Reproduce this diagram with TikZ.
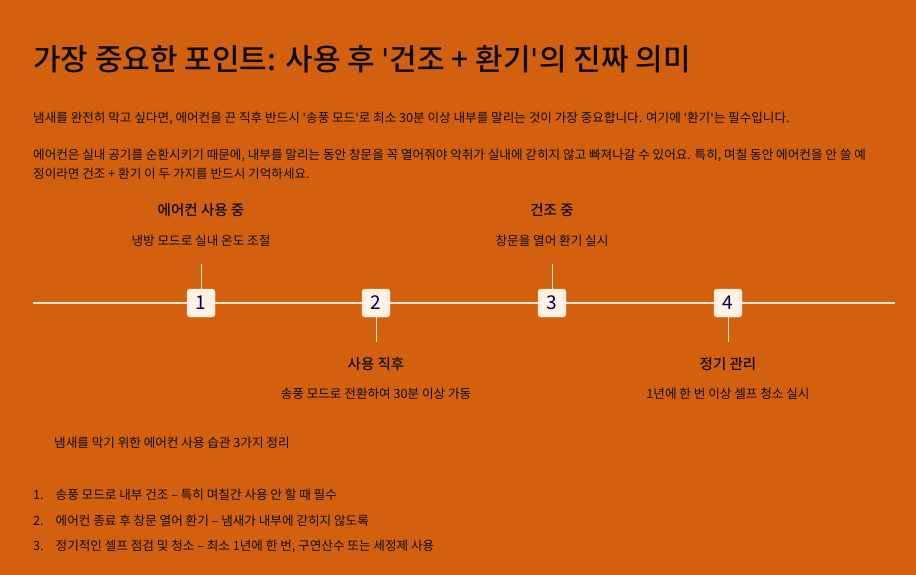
\documentclass[tikz,border=0pt]{standalone}
\usepackage{fontspec}
\setmainfont{Noto Sans CJK KR}[Ligatures=ResetAll]
\newfontfamily\medfont{Noto Sans CJK KR Medium}
\newfontfamily\qfont{DejaVu Sans}
\newcommand{\sq}{{\qfont\char"0027}}
\begin{document}
\begin{tikzpicture}[x=1pt,y=-1pt,
  txt/.style={text=black!95, inner sep=0pt, anchor=west, font=\fontsize{12.6}{15}\selectfont},
  head/.style={text=black!95, inner sep=0pt, font=\fontsize{14.5}{17}\selectfont\medfont},
  sub/.style={text=black!95, inner sep=0pt, font=\fontsize{12.6}{15}\selectfont},
  numbox/.style={draw=white!80!orange, fill=orange!10!white, rounded corners=3pt, minimum size=28pt, inner sep=0pt, text=blue!30!black, font=\fontsize{19}{21}\selectfont},
  tl/.style={draw=white!80!orange, line width=1.2pt},
  tick/.style={draw=white!80!orange, line width=0.8pt}]
\definecolor{bg}{HTML}{D2600F}
\fill[bg] (0,0) rectangle (916,575);
\node[txt, font=\fontsize{30}{34}\selectfont\medfont] (title) at (33,59) {가장 중요한 포인트: 사용 후 \sq 건조 + 환기\sq 의 진짜 의미};
\node[txt] (p1) at (33,118) {냄새를 완전히 막고 싶다면, 에어컨을 끈 직후 반드시 \sq 송풍 모드\sq 로 최소 30분 이상 내부를 말리는 것이 가장 중요합니다. 여기에 \sq 환기\sq 는 필수입니다.};
\node[txt] (p2a) at (33,155) {에어컨은 실내 공기를 순환시키기 때문에, 내부를 말리는 동안 창문을 꼭 열어줘야 악취가 실내에 갇히지 않고 빠져나갈 수 있어요. 특히, 며칠 동안 에어컨을 안 쓸 예};
\node[txt] (p2b) at (33,174) {정이라면 건조 + 환기 이 두 가지를 반드시 기억하세요.};
\coordinate (L) at (33,303); \coordinate (R) at (895,303);
\draw[tl] (L) -- (R);
\node[numbox] (n1) at (201,303) {1};
\node[numbox] (n2) at (376,303) {2};
\node[numbox] (n3) at (552,303) {3};
\node[numbox] (n4) at (728,303) {4};
\coordinate (t1) at (201,264); \coordinate (t3) at (552,264);
\coordinate (t2) at (376,342); \coordinate (t4) at (728,342);
\draw[tick] (n1.north) -- (t1); \draw[tick] (n3.north) -- (t3);
\draw[tick] (n2.south) -- (t2); \draw[tick] (n4.south) -- (t4);
\node[head] (h1) at (201,210) {에어컨 사용 중};
\node[sub] (s1) at (201,241) {냉방 모드로 실내 온도 조절};
\node[head] (h3) at (552,210) {건조 중};
\node[sub] (s3) at (552,241) {창문을 열어 환기 실시};
\node[head] (h2) at (376,364) {사용 직후};
\node[sub] (s2) at (376,394) {송풍 모드로 전환하여 30분 이상 가동};
\node[head] (h4) at (728,364) {정기 관리};
\node[sub] (s4) at (728,394) {1년에 한 번 이상 셀프 청소 실시};
\node[txt] (cap) at (54,443) {냄새를 막기 위한 에어컨 사용 습관 3가지 정리};
\node[txt] (i1) at (33,495) {1.\hspace{12pt}송풍 모드로 내부 건조 – 특히 며칠간 사용 안 할 때 필수};
\node[txt] (i2) at (33,521) {2.\hspace{12pt}에어컨 종료 후 창문 열어 환기 – 냄새가 내부에 갇히지 않도록};
\node[txt] (i3) at (33,546) {3.\hspace{12pt}정기적인 셀프 점검 및 청소 – 최소 1년에 한 번, 구연산수 또는 세정제 사용};
\end{tikzpicture}
\end{document}
